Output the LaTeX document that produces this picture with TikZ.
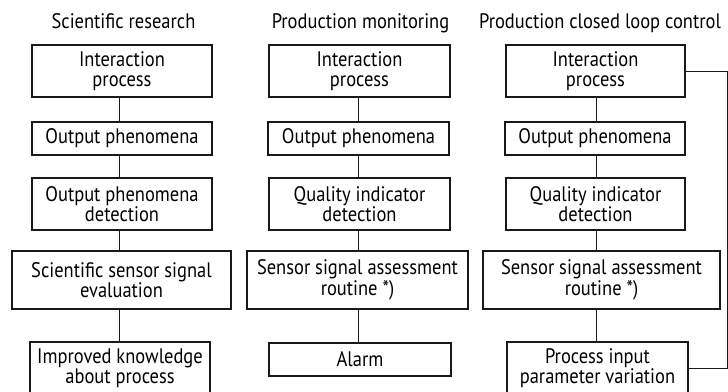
\documentclass[tikz,border=0pt]{standalone}
\usepackage{fontspec}
\setmainfont[FakeStretch=0.88]{PT Sans}
\begin{document}
\begin{tikzpicture}[x=1pt,y=-1pt,
  every node/.style={font=\fontsize{21}{20.5}\selectfont, text=black},
  box/.style={draw=black!90, line width=1.6pt, align=center, inner sep=0pt},
  tall/.style={box, minimum height=52pt},
  short/.style={box, minimum height=33pt},
  link/.style={draw=black!90, line width=1pt},
  heading/.style={anchor=base}]
\useasboundingbox (0,0) rectangle (728,391);

% column headings
\node[heading] (h1) at (123.5,28) {Scientific\ research};
\node[heading] (h2) at (360.5,28) {Production\ monitoring};
\node[heading] (h3) at (600,28) {Production\ closed\ loop\ control};

% scientific research
\node[tall,  minimum width=180pt] (a1) at (122,71)    {Interaction\\process};
\node[short, minimum width=180pt] (a2) at (122,138.5) {Output phenomena};
\node[tall,  minimum width=180pt] (a3) at (122,204)   {Output phenomena\\detection};
\node[box, minimum height=58pt, minimum width=219pt] (a4) at (121.5,280) {Scientific sensor signal\\evaluation};
\node[tall,  minimum width=180pt] (a5) at (120,368)   {Improved knowledge\\about process};

% production monitoring
\node[tall,  minimum width=181pt] (b1) at (359.5,71)    {Interaction\\process};
\node[short, minimum width=181pt] (b2) at (358.5,138.5) {Output phenomena};
\node[tall,  minimum width=181pt] (b3) at (359.5,204)   {Quality indicator\\detection};
\node[box, minimum height=58pt, minimum width=221pt] (b4) at (357.5,280) {Sensor signal assessment\\routine *)};
\node[short, minimum width=182pt] (b5) at (360,359.5)   {Alarm};

% production closed loop control
\node[tall,  minimum width=179pt] (c1) at (595.5,71)    {Interaction\\process};
\node[short, minimum width=180pt] (c2) at (595,138.5)   {Output phenomena};
\node[tall,  minimum width=179pt] (c3) at (595.5,204)   {Quality indicator\\detection};
\node[box, minimum height=58pt, minimum width=237pt] (c4) at (601.5,280) {Sensor signal assessment\\routine *)};
\node[tall,  minimum width=181pt] (c5) at (597.5,368)   {Process input\\parameter variation};

% vertical connectors
\coordinate (xa) at (119,0);
\coordinate (xb) at (358,0);
\coordinate (xc) at (596,0);
\foreach \u/\v in {a1/a2,a2/a3,a3/a4,a4/a5}
  \draw[link] (xa |- \u.south) -- (xa |- \v.north);
\foreach \u/\v in {b1/b2,b2/b3,b3/b4,b4/b5}
  \draw[link] (xb |- \u.south) -- (xb |- \v.north);
\foreach \u/\v in {c1/c2,c2/c3,c3/c4,c4/c5}
  \draw[link] (xc |- \u.south) -- (xc |- \v.north);

% feedback loop
\coordinate (fb) at (727,0);
\draw[link] (c1.east) -- (c1.east -| fb) -- (fb |- c5.east) -- (c5.east);
\end{tikzpicture}
\end{document}
